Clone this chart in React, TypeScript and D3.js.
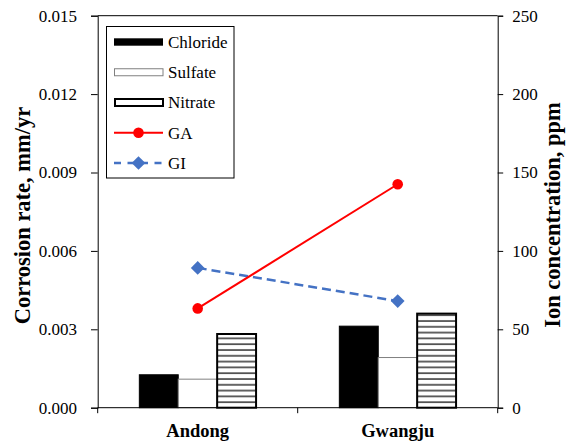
import React, { useRef, useEffect } from 'react';
import * as d3 from 'd3';

// data
const categories = ['Andong', 'Gwangju'];
const ionSeries = ['Chloride', 'Sulfate', 'Nitrate'];
const chloride = [21, 52];
const sulfate = [18.2, 32];
const nitrate = [47, 60];
const gaRate = [0.0038, 0.00855];
const giRate = [0.00535, 0.00408];
const leftTicks = [0, 0.003, 0.006, 0.009, 0.012, 0.015];
const rightTicks = [0, 50, 100, 150, 200, 250];

function App() {
    const svgRef = useRef<SVGSVGElement>(null);

    useEffect(() => {
        const w = 573;
        const h = 442;
        const left = 97.7, right = 497.7, top = 15.7, bottom = 407.7;
        const font = 'Liberation Serif, serif';

        const svg = d3.select(svgRef.current)
            .attr('width', w)
            .attr('height', h)
            .style('font-family', font);
        svg.selectAll('*').remove();

        // scales
        const x = d3.scaleBand().domain(categories).range([left, right]).padding(0);
        const xInner = d3.scaleBand().domain(ionSeries)
            .range([0, x.bandwidth()])
            .paddingInner(0)
            .paddingOuter(1.07);
        const yLeft = d3.scaleLinear().domain([0, 0.015]).range([bottom, top]);
        const yRight = d3.scaleLinear().domain([0, 250]).range([bottom, top]);

        // hatch for nitrate
        const defs = svg.append('defs');
        const pat = defs.append('pattern')
            .attr('id', 'hstripe')
            .attr('patternUnits', 'userSpaceOnUse')
            .attr('width', 8)
            .attr('height', 5.8);
        pat.append('rect').attr('width', 8).attr('height', 5.8).attr('fill', '#fff');
        pat.append('line')
            .attr('x1', 0).attr('x2', 8)
            .attr('y1', 2).attr('y2', 2)
            .attr('stroke', '#111')
            .attr('stroke-width', 1.3);

        // bars
        const values: Record<string, number[]> = { Chloride: chloride, Sulfate: sulfate, Nitrate: nitrate };
        const barStyle: Record<string, { fill: string; stroke: string; sw: number }> = {
            Chloride: { fill: '#000', stroke: '#000', sw: 1 },
            Sulfate: { fill: '#fff', stroke: '#808080', sw: 1 },
            Nitrate: { fill: 'url(#hstripe)', stroke: '#000', sw: 2 },
        };
        ionSeries.forEach(s => {
            svg.append('g')
                .selectAll('rect')
                .data(categories)
                .join('rect')
                .attr('x', (c) => (x(c) as number) + (xInner(s) as number))
                .attr('y', (c, i) => yRight(values[s][i]))
                .attr('width', xInner.bandwidth())
                .attr('height', (c, i) => bottom - yRight(values[s][i]))
                .attr('fill', barStyle[s].fill)
                .attr('stroke', barStyle[s].stroke)
                .attr('stroke-width', barStyle[s].sw);
        });

        // frame top border
        svg.append('line')
            .attr('x1', left).attr('x2', right)
            .attr('y1', top).attr('y2', top)
            .attr('stroke', '#000');

        // axes
        const axisL = svg.append('g')
            .attr('transform', `translate(${left},0)`)
            .call(d3.axisLeft(yLeft).tickValues(leftTicks).tickFormat(d3.format('.3f')).tickSize(6.7).tickPadding(14));
        const axisR = svg.append('g')
            .attr('transform', `translate(${right},0)`)
            .call(d3.axisRight(yRight).tickValues(rightTicks).tickSize(5.5).tickPadding(9));
        const xTickVals = [left, ...categories.map(c => (x(c) as number) + x.bandwidth())];
        const axisB = svg.append('g');
        axisB.append('line')
            .attr('x1', left).attr('x2', right)
            .attr('y1', bottom).attr('y2', bottom)
            .attr('stroke', '#000');
        axisB.selectAll('line.tk')
            .data(xTickVals)
            .join('line')
            .attr('class', 'tk')
            .attr('x1', d => d).attr('x2', d => d)
            .attr('y1', bottom).attr('y2', bottom + 5.5)
            .attr('stroke', '#000');
        axisB.selectAll('text')
            .data(categories)
            .join('text')
            .attr('x', c => (x(c) as number) + x.bandwidth() / 2)
            .attr('y', 436.7)
            .attr('text-anchor', 'middle')
            .style('font-family', font)
            .attr('font-weight', 'bold')
            .attr('font-size', 18.5)
            .text(c => c);

        [axisL, axisR].forEach(a => {
            a.attr('font-family', null);
            a.select('.domain').attr('stroke', '#000');
            a.selectAll('.tick line').attr('stroke', '#000');
            a.selectAll('.tick text')
                .style('font-family', font)
                .attr('font-size', 17)
                .attr('fill', '#000');
        });

        // axis titles
        svg.append('text')
            .attr('transform', `translate(30,215.5) rotate(-90)`)
            .attr('text-anchor', 'middle')
            .style('font-family', font)
            .attr('font-weight', 'bold')
            .attr('font-size', 22.5)
            .text('Corrosion rate, mm/yr');
        svg.append('text')
            .attr('transform', `translate(560,215) rotate(-90)`)
            .attr('text-anchor', 'middle')
            .style('font-family', font)
            .attr('font-weight', 'bold')
            .attr('font-size', 22.5)
            .text('Ion concentration, ppm');

        // lines
        const cx = (c: string) => (x(c) as number) + x.bandwidth() / 2;
        const line = d3.line<[string, number]>()
            .x(d => cx(d[0]))
            .y(d => yLeft(d[1]));

        const giData = categories.map((c, i) => [c, giRate[i]] as [string, number]);
        const gaData = categories.map((c, i) => [c, gaRate[i]] as [string, number]);

        svg.append('path')
            .attr('d', line(giData))
            .attr('fill', 'none')
            .attr('stroke', '#4472C4')
            .attr('stroke-width', 2.5)
            .attr('stroke-dasharray', '9,5');
        svg.append('g')
            .selectAll('path')
            .data(giData)
            .join('path')
            .attr('d', d3.symbol(d3.symbolDiamond2, 120)())
            .attr('transform', d => `translate(${cx(d[0])},${yLeft(d[1])})`)
            .attr('fill', '#4472C4');

        svg.append('path')
            .attr('d', line(gaData))
            .attr('fill', 'none')
            .attr('stroke', '#FF0000')
            .attr('stroke-width', 2);
        svg.append('g')
            .selectAll('circle')
            .data(gaData)
            .join('circle')
            .attr('cx', d => cx(d[0]))
            .attr('cy', d => yLeft(d[1]))
            .attr('r', 5.3)
            .attr('fill', '#FF0000');

        // legend
        const lg = svg.append('g');
        lg.append('rect')
            .attr('x', 106.5).attr('y', 26.5)
            .attr('width', 127.5).attr('height', 151.5)
            .attr('fill', '#fff')
            .attr('stroke', '#000');
        const legendItems = [...ionSeries, 'GA', 'GI'];
        const ly = (i: number) => 42 + i * 30.25;
        legendItems.forEach((name, i) => {
            const y = ly(i);
            if (name === 'Chloride') {
                lg.append('rect').attr('x', 114).attr('y', y - 3.7).attr('width', 49).attr('height', 7.4).attr('fill', '#000');
            } else if (name === 'Sulfate') {
                lg.append('rect').attr('x', 114.5).attr('y', y - 3.5).attr('width', 48.5).attr('height', 7).attr('fill', '#fff').attr('stroke', '#808080');
            } else if (name === 'Nitrate') {
                lg.append('rect').attr('x', 115).attr('y', y - 3.5).attr('width', 48).attr('height', 7).attr('fill', '#fff').attr('stroke', '#000').attr('stroke-width', 2);
            } else if (name === 'GA') {
                lg.append('line').attr('x1', 114).attr('x2', 163).attr('y1', y).attr('y2', y).attr('stroke', '#FF0000').attr('stroke-width', 2);
                lg.append('circle').attr('cx', 138.5).attr('cy', y).attr('r', 5.3).attr('fill', '#FF0000');
            } else {
                lg.append('line').attr('x1', 114).attr('x2', 163).attr('y1', y).attr('y2', y)
                    .attr('stroke', '#4472C4').attr('stroke-width', 2.5).attr('stroke-dasharray', '7,6.5');
                lg.append('path').attr('d', d3.symbol(d3.symbolDiamond2, 120)())
                    .attr('transform', `translate(138.5,${y})`).attr('fill', '#4472C4');
            }
            lg.append('text')
                .attr('x', 168)
                .attr('y', y)
                .attr('dy', '0.35em')
                .style('font-family', font)
                .attr('font-size', 17)
                .text(name);
        });
    }, []);

    return (
        <svg ref={svgRef} style={{ position: 'absolute', left: 0, top: 0, background: '#fff' }}></svg>
    );
}

export default App;
